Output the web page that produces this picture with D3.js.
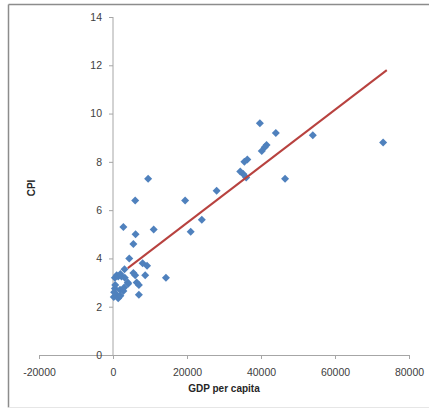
<!DOCTYPE html>
<html>
<head>
<meta charset="utf-8">
<title>CPI vs GDP</title>
<script src="https://d3js.org/d3.v7.min.js"></script>
<style>
  html, body { margin: 0; padding: 0; background: #fff; }
  text { font-family: "Liberation Sans", Arial, sans-serif; }
  .axis path, .axis line { stroke: #a6a6a6; }
  .axis text { fill: #404040; font-size: 10.5px; }
</style>
</head>
<body>
<script>
// GDP per capita, CPI pairs
let gdp = [73000, 54000, 46500, 44000, 41500, 41000, 40200, 39700, 36300, 35500,
           36000, 35200, 34400, 28000, 24000, 21000, 19500, 14300, 11000, 9500,
           9200, 8000, 8700, 6000, 6100, 5500, 4400, 3100, 2800, 6000,
           6400, 7000, 7000, 4000, 5500,
           500, 1400, 2300, 3200, 1000, 2000, 4100, 500, 1900, 2800,
           1000, 200, 1400, 600, 3000, 2000, 300];
let cpi = [8.8, 9.1, 7.3, 9.2, 8.7, 8.6, 8.45, 9.6, 8.1, 8.0,
           7.35, 7.5, 7.6, 6.8, 5.6, 5.1, 6.4, 3.2, 5.2, 7.3,
           3.7, 3.8, 3.3, 6.4, 5.0, 4.6, 4.0, 3.55, 5.3, 3.3,
           3.0, 2.9, 2.5, 3.0, 3.4,
           3.2, 3.25, 3.25, 3.2, 3.3, 3.35, 2.95, 2.75, 2.7, 2.65,
           2.5, 2.4, 2.35, 2.9, 2.8, 2.45, 2.6];
let trendX = [4000, 74000];
let trendY = [3.6, 11.8];
let xTicks = [-20000, 0, 20000, 40000, 60000, 80000];
let yTicks = [0, 2, 4, 6, 8, 10, 12, 14];

let W = 429, H = 409;
let svg = d3.select("body").append("svg")
  .attr("width", W).attr("height", H);

// chart frame
svg.append("line").attr("x1", 8.5).attr("y1", 4.5).attr("x2", W).attr("y2", 4.5)
  .attr("stroke", "#8c8c8c").attr("stroke-width", 1.5);
svg.append("line").attr("x1", 8.5).attr("y1", 4.5).attr("x2", 8.5).attr("y2", 407.5)
  .attr("stroke", "#8c8c8c").attr("stroke-width", 1.5);
svg.append("line").attr("x1", 8.5).attr("y1", 407.5).attr("x2", W).attr("y2", 407.5)
  .attr("stroke", "#e6e6e6");

let x = d3.scaleLinear().domain([-20000, 80000]).range([39, 409]);
let y = d3.scaleLinear().domain([0, 14]).range([355, 17]);

let xAxis = svg.append("g").attr("class", "axis")
  .attr("transform", "translate(0," + y(0) + ")")
  .call(d3.axisBottom(x).tickValues(xTicks).tickSize(4).tickPadding(8).tickFormat(d => String(d)));
xAxis.selectAll("text").attr("dy", "0.9em");

let yAxis = svg.append("g").attr("class", "axis")
  .attr("transform", "translate(" + x(0) + ",0)")
  .call(d3.axisLeft(y).tickValues(yTicks).tickSize(4).tickPadding(7).tickSizeOuter(0));
yAxis.select(".domain").attr("d", "M0," + y(14) + "V" + y(0));

// points
let pts = gdp.map((g, i) => ({ g: g, c: cpi[i] }));
svg.append("g").selectAll("path").data(pts).enter().append("path")
  .attr("d", d3.symbol().type(d3.symbolSquare).size(32))
  .attr("transform", d => "translate(" + x(d.g) + "," + y(d.c) + ") rotate(45)")
  .attr("fill", "#4f81bd");

// trend line
svg.append("line")
  .attr("x1", x(trendX[0])).attr("y1", y(trendY[0]))
  .attr("x2", x(trendX[1])).attr("y2", y(trendY[1]))
  .attr("stroke", "#b8423f").attr("stroke-width", 2);

// axis titles
svg.append("text").attr("x", 224).attr("y", 392).attr("text-anchor", "middle")
  .attr("font-size", "10px").attr("font-weight", "bold").attr("fill", "#262626")
  .text("GDP per capita");
svg.append("text").attr("transform", "translate(35,188) rotate(-90)")
  .attr("text-anchor", "middle")
  .attr("font-size", "10px").attr("font-weight", "bold").attr("fill", "#262626")
  .text("CPI");
</script>
</body>
</html>
